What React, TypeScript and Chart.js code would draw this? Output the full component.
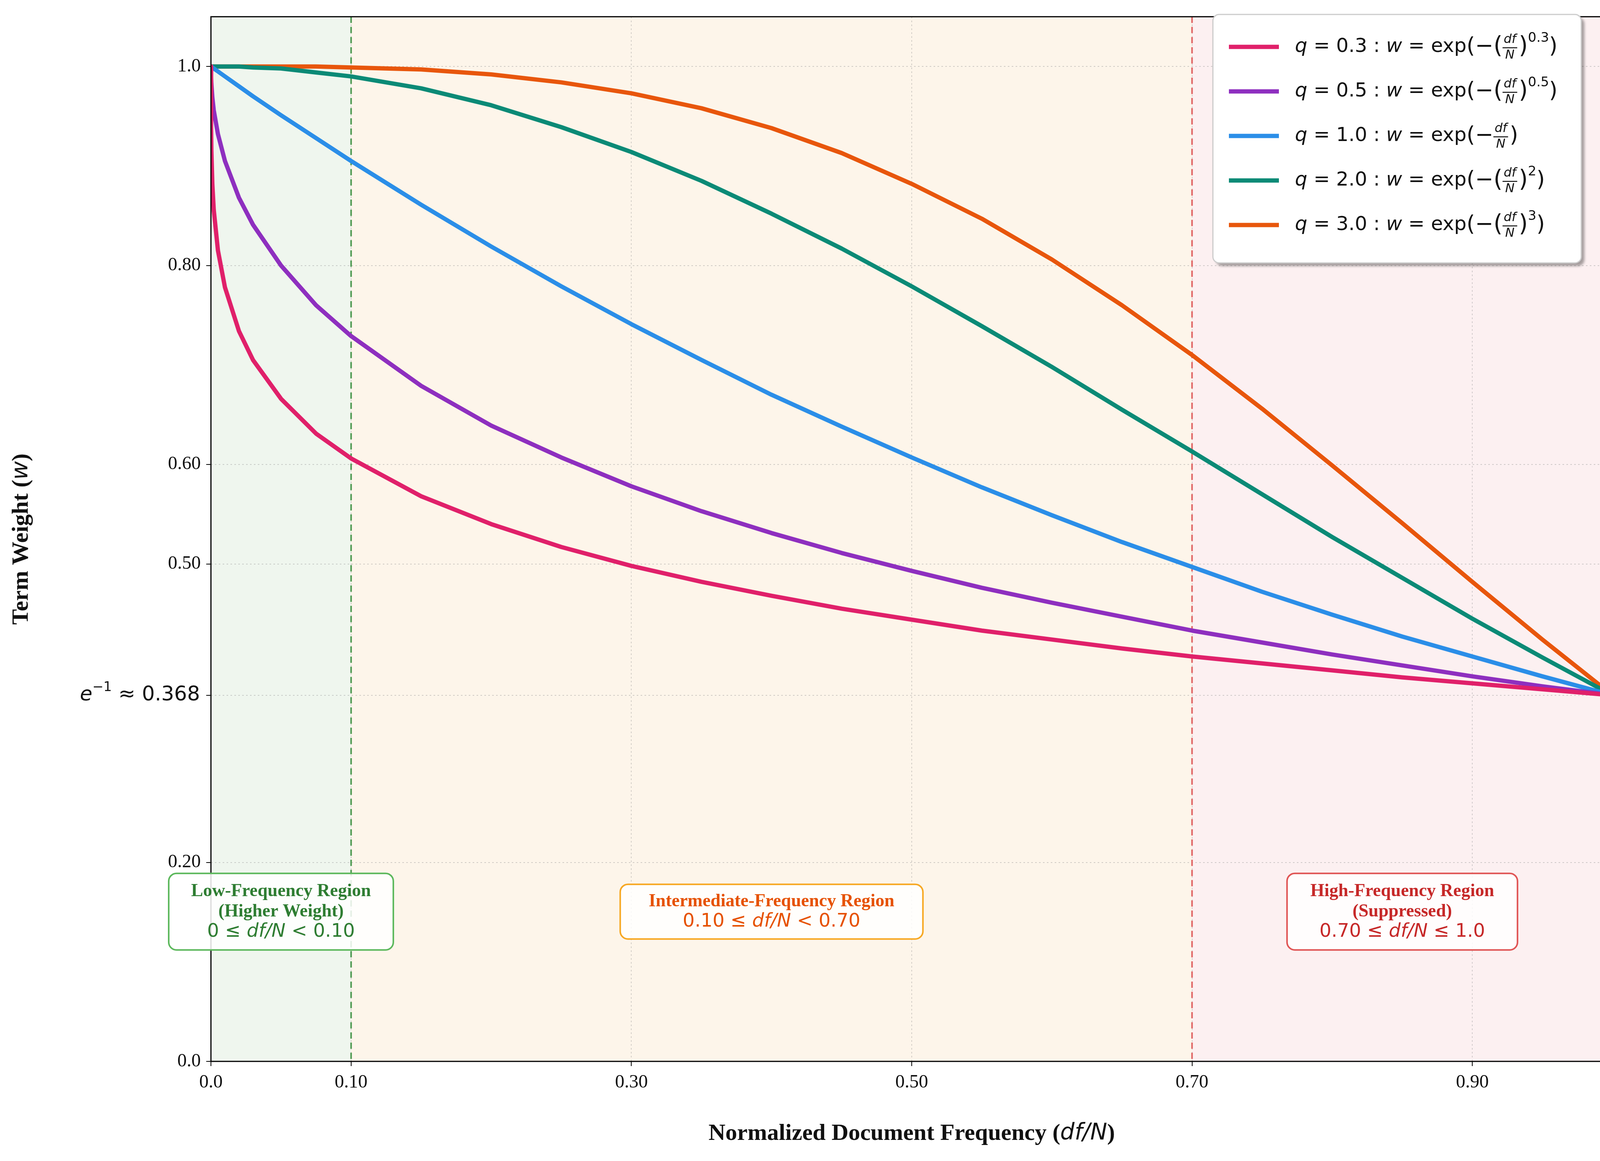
import React, { useEffect, useRef } from "react";
import { Chart, registerables } from "chart.js";
Chart.register(...registerables);

const xValues = [0, 0.0001, 0.0003, 0.001, 0.002, 0.005, 0.01, 0.02, 0.03, 0.05, 0.075, 0.1, 0.15, 0.2, 0.25, 0.3, 0.35, 0.4, 0.45, 0.5, 0.55, 0.6, 0.65, 0.7, 0.75, 0.8, 0.85, 0.9, 0.95, 1.0];
const q03 = [1.0, 0.939, 0.916, 0.882, 0.856, 0.815, 0.778, 0.734, 0.705, 0.666, 0.631, 0.606, 0.568, 0.540, 0.517, 0.498, 0.482, 0.468, 0.455, 0.444, 0.433, 0.424, 0.415, 0.407, 0.400, 0.393, 0.386, 0.380, 0.374, 0.368];
const q05 = [1.0, 0.990, 0.983, 0.969, 0.956, 0.932, 0.905, 0.868, 0.841, 0.800, 0.760, 0.729, 0.679, 0.639, 0.607, 0.578, 0.553, 0.531, 0.511, 0.493, 0.476, 0.461, 0.447, 0.433, 0.421, 0.409, 0.398, 0.387, 0.377, 0.368];
const q10 = [1.0, 1.0, 1.0, 0.999, 0.998, 0.995, 0.990, 0.980, 0.970, 0.951, 0.928, 0.905, 0.861, 0.819, 0.779, 0.741, 0.705, 0.670, 0.638, 0.607, 0.577, 0.549, 0.522, 0.497, 0.472, 0.449, 0.427, 0.407, 0.387, 0.368];
const q20 = [1.0, 1.0, 1.0, 1.0, 1.0, 1.0, 1.0, 1.0, 0.999, 0.998, 0.994, 0.990, 0.978, 0.961, 0.939, 0.914, 0.885, 0.852, 0.817, 0.779, 0.739, 0.698, 0.655, 0.613, 0.570, 0.527, 0.486, 0.445, 0.406, 0.368];
const q30 = [1.0, 1.0, 1.0, 1.0, 1.0, 1.0, 1.0, 1.0, 1.0, 1.0, 1.0, 0.999, 0.997, 0.992, 0.984, 0.973, 0.958, 0.938, 0.913, 0.882, 0.847, 0.806, 0.760, 0.710, 0.656, 0.599, 0.541, 0.482, 0.424, 0.368];

const qLabels = ["0.3", "0.5", "1.0", "2.0", "3.0"];
const exponents = ["0.3", "0.5", "", "2", "3"];
const colors = ["#e0206a", "#8e2fbf", "#2b8ee8", "#0b8a76", "#e8560c"];
const seriesList = [q03, q05, q10, q20, q30];

const xTicks = [0, 0.1, 0.3, 0.5, 0.7, 0.9, 1.0];
const xTickLabels = ["0.0", "0.10", "0.30", "0.50", "0.70", "0.90", "1.0"];
const yTicks = [0, 0.2, 0.368, 0.5, 0.6, 0.8, 1.0];
const yTickLabels = ["0.0", "0.20", "", "0.50", "0.60", "0.80", "1.0"];
const specialTick = 0.368;

const SERIF = "'Liberation Serif', 'DejaVu Serif', serif";
const SANS = "'DejaVu Sans', sans-serif";

function rr(ctx: CanvasRenderingContext2D, x: number, y: number, w: number, h: number, r: number) {
  ctx.beginPath();
  ctx.moveTo(x + r, y);
  ctx.arcTo(x + w, y, x + w, y + h, r);
  ctx.arcTo(x + w, y + h, x, y + h, r);
  ctx.arcTo(x, y + h, x, y, r);
  ctx.arcTo(x, y, x + w, y, r);
  ctx.closePath();
}

function mixed(ctx: CanvasRenderingContext2D, parts: [string, string][], cx: number, cy: number) {
  let total = 0;
  for (const [t, f] of parts) { ctx.font = f; total += ctx.measureText(t).width; }
  let x = cx - total / 2;
  ctx.textAlign = "left";
  for (const [t, f] of parts) { ctx.font = f; ctx.fillText(t, x, cy); x += ctx.measureText(t).width; }
}

const decor = {
  id: "decor",
  beforeDraw(chart: any) {
    const { ctx, chartArea: a, scales } = chart;
    const xs = scales.x;
    ctx.save();
    ctx.fillStyle = "#ffffff";
    ctx.fillRect(0, 0, chart.width, chart.height);
    const regions: [number, number, string][] = [
      [0, 0.1, "#eff6ee"],
      [0.1, 0.7, "#fdf5ea"],
      [0.7, 1.0, "#fcf0f1"],
    ];
    for (const [a0, a1, c] of regions) {
      ctx.fillStyle = c;
      const x0 = xs.getPixelForValue(a0);
      const x1 = xs.getPixelForValue(a1);
      ctx.fillRect(x0, a.top, x1 - x0, a.bottom - a.top);
    }
    ctx.restore();
  },
  beforeDatasetsDraw(chart: any) {
    const { ctx, chartArea: a, scales } = chart;
    ctx.save();
    ctx.lineWidth = 4;
    ctx.setLineDash([16, 10]);
    const lines: [number, string][] = [[0.1, "#4f9a52"], [0.7, "#e06464"]];
    for (const [v, c] of lines) {
      const x = scales.x.getPixelForValue(v);
      ctx.strokeStyle = c;
      ctx.beginPath();
      ctx.moveTo(x, a.top);
      ctx.lineTo(x, a.bottom);
      ctx.stroke();
    }
    ctx.restore();
  },
  afterDraw(chart: any) {
    const { ctx, chartArea: a, scales } = chart;
    const xs = scales.x, ys = scales.y;
    ctx.save();
    ctx.strokeStyle = "#000";
    ctx.lineWidth = 3;
    ctx.strokeRect(a.left, a.top, a.right - a.left, a.bottom - a.top);

    // axis titles & special tick
    ctx.fillStyle = "#111";
    ctx.textBaseline = "middle";
    mixed(ctx, [["Normalized Document Frequency (", `bold 60px ${SERIF}`], ["df/N", `italic 58px ${SANS}`], [")", `bold 60px ${SERIF}`]], (a.left + a.right) / 2, 2902);
    ctx.save();
    ctx.translate(55, (a.top + a.bottom) / 2);
    ctx.rotate(-Math.PI / 2);
    mixed(ctx, [["Term Weight (", `bold 60px ${SERIF}`], ["w", `italic 58px ${SANS}`], [")", `bold 60px ${SERIF}`]], 0, 0);
    ctx.restore();
    const sy = ys.getPixelForValue(specialTick);
    ctx.textAlign = "right";
    ctx.font = `52px ${SANS}`;
    const tail = " ≈ 0.368";
    const tw = ctx.measureText(tail).width;
    ctx.fillText(tail, a.left - 28, sy);
    ctx.font = `34px ${SANS}`;
    const sw = ctx.measureText("−1").width;
    ctx.fillText("−1", a.left - 28 - tw, sy - 20);
    ctx.font = `italic 52px ${SANS}`;
    ctx.fillText("e", a.left - 28 - tw - sw, sy);

    // annotation boxes
    const boxes = [
      { cx: 0.05, top: 0.189, bot: 0.112, w: 575, border: "#5cb85c", color: "#2e7d32", lines: ["Low-Frequency Region", "(Higher Weight)"], math: "0 ≤ df/N < 0.10" },
      { cx: 0.4, top: 0.178, bot: 0.123, w: 775, border: "#f7a823", color: "#e65100", lines: ["Intermediate-Frequency Region"], math: "0.10 ≤ df/N < 0.70" },
      { cx: 0.85, top: 0.189, bot: 0.112, w: 590, border: "#e05555", color: "#c62828", lines: ["High-Frequency Region", "(Suppressed)"], math: "0.70 ≤ df/N ≤ 1.0" },
    ];
    for (const b of boxes) {
      const cx = xs.getPixelForValue(b.cx);
      const y0 = ys.getPixelForValue(b.top);
      const y1 = ys.getPixelForValue(b.bot);
      rr(ctx, cx - b.w / 2, y0, b.w, y1 - y0, 20);
      ctx.fillStyle = "rgba(255,255,255,0.85)";
      ctx.fill();
      ctx.strokeStyle = b.border;
      ctx.lineWidth = 4;
      ctx.stroke();
      ctx.fillStyle = b.color;
      ctx.textAlign = "center";
      ctx.textBaseline = "middle";
      const n = b.lines.length + 1;
      const lh = 52;
      const startY = (y0 + y1) / 2 - ((n - 1) * lh) / 2;
      b.lines.forEach((t, i) => {
        ctx.font = `bold 46px ${SERIF}`;
        ctx.fillText(t, cx, startY + i * lh);
      });
      const parts = b.math.split("df/N");
      mixed(ctx, [[parts[0], `48px ${SANS}`], ["df/N", `italic 48px ${SANS}`], [parts[1], `48px ${SANS}`]], cx, startY + b.lines.length * lh);
    }

    // legend
    const lx = 3105, ly = 37, lw = 943, lh2 = 636;
    ctx.save();
    ctx.shadowColor = "rgba(0,0,0,0.35)";
    ctx.shadowOffsetX = 8;
    ctx.shadowOffsetY = 8;
    ctx.shadowBlur = 6;
    rr(ctx, lx, ly, lw, lh2, 16);
    ctx.fillStyle = "#ffffff";
    ctx.fill();
    ctx.restore();
    rr(ctx, lx, ly, lw, lh2, 16);
    ctx.strokeStyle = "#cccccc";
    ctx.lineWidth = 3;
    ctx.stroke();
    const fs = 50;
    for (let i = 0; i < 5; i++) {
      const yy = 120 + i * 114;
      ctx.strokeStyle = colors[i];
      ctx.lineWidth = 11;
      ctx.setLineDash([]);
      ctx.beginPath();
      ctx.moveTo(3146, yy);
      ctx.lineTo(3274, yy);
      ctx.stroke();
      let x = 3315;
      ctx.fillStyle = "#111";
      ctx.textAlign = "left";
      ctx.textBaseline = "middle";
      const put = (t: string, font: string, dy = 0) => {
        ctx.font = font;
        ctx.fillText(t, x, yy + dy);
        x += ctx.measureText(t).width;
      };
      const N = `${fs}px ${SANS}`;
      const I = `italic ${fs}px ${SANS}`;
      put("q", I);
      put(` = ${qLabels[i]} : `, N);
      put("w", I);
      put(" = exp", N);
      put("(−", `${fs + 6}px ${SANS}`);
      if (exponents[i] !== "") put("(", `${fs + 10}px ${SANS}`);
      ctx.font = `italic 32px ${SANS}`;
      const fw = Math.max(ctx.measureText("df").width, ctx.measureText("N").width) + 6;
      ctx.textAlign = "center";
      ctx.fillText("df", x + fw / 2, yy - 18);
      ctx.fillText("N", x + fw / 2, yy + 22);
      ctx.fillRect(x, yy + 1, fw, 2.5);
      ctx.textAlign = "left";
      x += fw + 4;
      if (exponents[i] !== "") {
        put(")", `${fs + 10}px ${SANS}`);
        put(exponents[i], `34px ${SANS}`, -22);
      }
      put(")", `${fs + 6}px ${SANS}`);
    }
    ctx.restore();
  },
};

export default function App() {
  const ref = useRef<HTMLCanvasElement>(null);
  useEffect(() => {
    if (!ref.current) return;
    const datasets = seriesList.map((s, i) => ({
      label: `q = ${qLabels[i]}`,
      data: xValues.map((x, j) => ({ x, y: s[j] })),
      borderColor: colors[i],
      borderWidth: 11,
      pointRadius: 0,
      fill: false,
      tension: 0,
      borderJoinStyle: "round" as const,
    }));
    const chart = new Chart(ref.current, {
      type: "line",
      data: { datasets },
      options: {
        animation: false,
        responsive: false,
        devicePixelRatio: 1,
        layout: { padding: { top: 27, right: 62, left: 0, bottom: 0 } },
        plugins: { legend: { display: false }, tooltip: { enabled: false } },
        scales: {
          x: {
            type: "linear",
            min: 0,
            max: 1,
            afterFit: (s: any) => { s.height = 255; },
            afterBuildTicks: (s: any) => { s.ticks = xTicks.map((v) => ({ value: v })); },
            ticks: {
              autoSkip: false,
              maxRotation: 0,
              font: { family: SERIF, size: 48 },
              color: "#111",
              padding: 14,
              callback: (v: any) => { const k = xTicks.indexOf(Number(v)); return k >= 0 ? xTickLabels[k] : ""; },
            },
            grid: { color: "rgba(150,150,150,0.45)", lineWidth: 2, tickLength: 12, tickColor: "#000" } as any,
            border: { display: false, dash: [4, 6] } as any,
          },
          y: {
            type: "linear",
            min: 0,
            max: 1.05,
            afterFit: (s: any) => { s.width = 540; },
            afterBuildTicks: (s: any) => { s.ticks = yTicks.map((v) => ({ value: v })); },
            ticks: {
              autoSkip: false,
              font: { family: SERIF, size: 48 },
              color: "#111",
              padding: 14,
              callback: (v: any) => { const k = yTicks.indexOf(Number(v)); return k >= 0 ? yTickLabels[k] : ""; },
            },
            grid: { color: "rgba(150,150,150,0.45)", lineWidth: 2, tickLength: 12, tickColor: "#000" } as any,
            border: { display: false, dash: [4, 6] } as any,
          },
        },
      },
      plugins: [decor],
    });
    return () => chart.destroy();
  }, []);
  return (
    <div style={{ position: "fixed", left: 0, top: 0, width: 4190, height: 2972 }}>
      <canvas ref={ref} width={4190} height={2972} />
    </div>
  );
}
